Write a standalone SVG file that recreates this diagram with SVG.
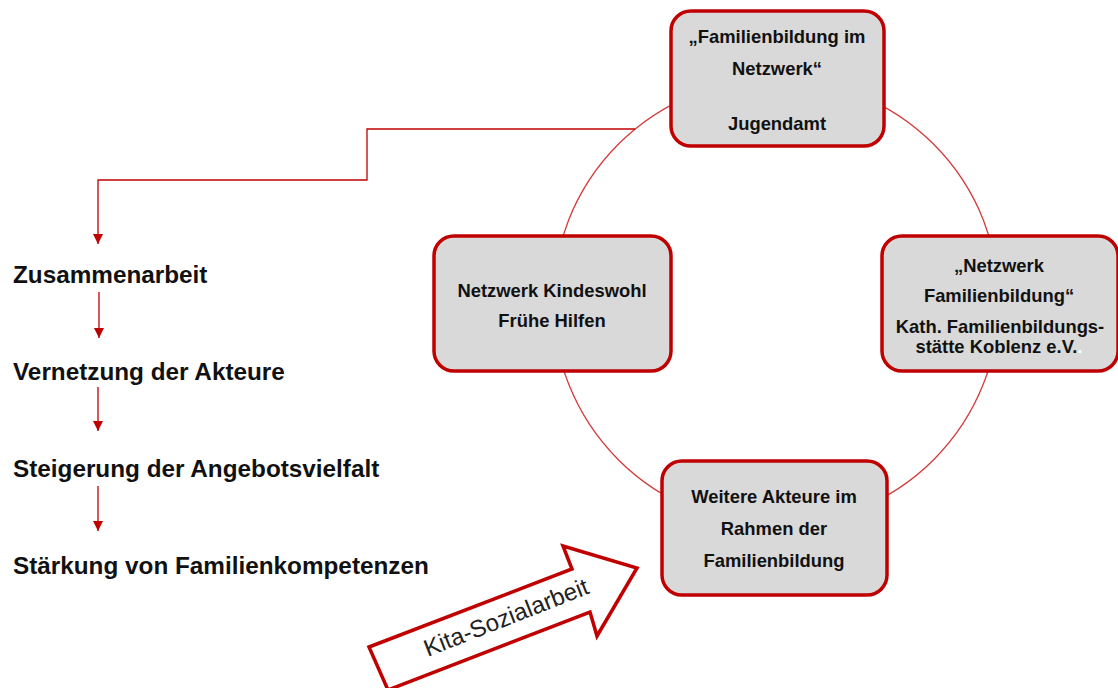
<svg xmlns="http://www.w3.org/2000/svg" width="1118" height="688" viewBox="0 0 1118 688">
<style>
.box{fill:#d9d9d9;stroke:#c00000;stroke-width:3.5}
.bt{font-family:"Liberation Sans",Arial,sans-serif;font-weight:bold;font-size:18.4px;fill:#111;text-anchor:middle}
.lt{font-family:"Liberation Sans",Arial,sans-serif;font-weight:bold;font-size:24.3px;fill:#111}
.ln{fill:none;stroke:#c00000;stroke-width:1.3}
.ring{fill:none;stroke:#d43a3a;stroke-width:1.3}
</style>
<defs>
<marker id="ah" markerUnits="userSpaceOnUse" markerWidth="10" markerHeight="10" refX="10" refY="5" orient="auto" viewBox="0 0 10 10">
<path d="M0,0 L10,5 L0,10 z" fill="#c00000"/>
</marker>
</defs>
<g id="connectors">
<circle class="ring" cx="776" cy="302" r="223"/>
<polyline class="ln" points="635,129 367,129 367,180 98,180 98,244" marker-end="url(#ah)"/>
<line class="ln" x1="99" y1="292" x2="99" y2="338" marker-end="url(#ah)"/>
<line class="ln" x1="98" y1="387" x2="98" y2="431" marker-end="url(#ah)"/>
<line class="ln" x1="98" y1="486" x2="98" y2="531" marker-end="url(#ah)"/>
</g>
<g id="node-top">
<rect class="box" x="671" y="11" width="213" height="135" rx="20"/>
<text class="bt" x="777" y="43">„Familienbildung im</text>
<text class="bt" x="777" y="75">Netzwerk“</text>
<text class="bt" x="777" y="130">Jugendamt</text>
</g>
<g id="node-left">
<rect class="box" x="434" y="236" width="237" height="135" rx="20"/>
<text class="bt" x="552" y="297">Netzwerk Kindeswohl</text>
<text class="bt" x="552" y="327">Frühe Hilfen</text>
</g>
<g id="node-right">
<rect class="box" x="882" y="236" width="236" height="135" rx="20"/>
<text class="bt" x="999" y="272">„Netzwerk</text>
<text class="bt" x="999" y="302">Familienbildung“</text>
<text class="bt" x="1000" y="333">Kath. Familienbildungs-</text>
<text class="bt" x="999" y="353">stätte Koblenz e.V.<tspan fill="#ffffff">.</tspan></text>
</g>
<g id="node-bottom">
<rect class="box" x="662" y="461" width="225" height="134" rx="20"/>
<text class="bt" x="774" y="503">Weitere Akteure im</text>
<text class="bt" x="774" y="535">Rahmen der</text>
<text class="bt" x="774" y="567">Familienbildung</text>
</g>
<g id="list">
<text class="lt" x="13" y="283">Zusammenarbeit</text>
<text class="lt" x="13" y="380">Vernetzung der Akteure</text>
<text class="lt" x="13" y="477">Steigerung der Angebotsvielfalt</text>
<text class="lt" x="13" y="574">Stärkung von Familienkompetenzen</text>
</g>
<g id="kita-arrow">
<polygon points="369,647 572,569 563,546 637,568 597,636 590,612 388,690" fill="#ffffff" stroke="#c00000" stroke-width="3.5" stroke-linejoin="miter"/>
<text x="509" y="625" transform="rotate(-21.4 509 625)" font-family="'Liberation Sans',Arial,sans-serif" font-size="24px" fill="#222" text-anchor="middle">Kita-Sozialarbeit</text>
</g>
</svg>
